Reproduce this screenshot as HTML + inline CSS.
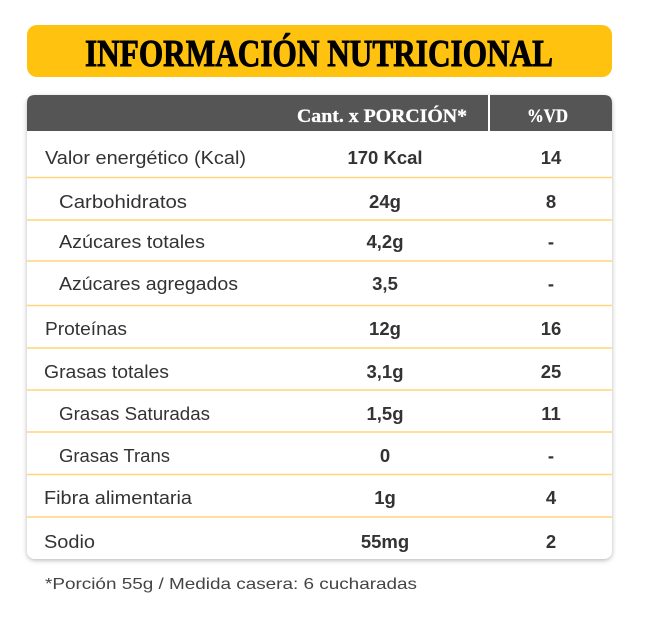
<!DOCTYPE html>
<html>
<head>
<meta charset="utf-8">
<style>
  html,body{margin:0;padding:0;background:#ffffff;}
  svg{display:block;}
</style>
</head>
<body>
<svg width="648" height="625" viewBox="0 0 648 625" xmlns="http://www.w3.org/2000/svg">
  <defs>
    <filter id="sh" x="-5%" y="-5%" width="110%" height="110%">
      <feDropShadow dx="0" dy="1.5" stdDeviation="2.5" flood-color="#000" flood-opacity="0.28"/>
    </filter>
  </defs>
  <rect x="0" y="0" width="648" height="625" fill="#ffffff"/>

  <!-- Banner -->
  <rect x="27" y="25" width="585" height="52" rx="10" ry="10" fill="#FFC20E"/>
  <text x="85" y="66" font-family="Liberation Serif, serif" font-weight="bold" font-size="38" fill="#000" stroke="#000" stroke-width="0.9" textLength="468" lengthAdjust="spacingAndGlyphs">INFORMACIÓN NUTRICIONAL</text>

  <!-- Table -->
  <rect x="27" y="95" width="585" height="464" rx="8" ry="8" fill="#ffffff" filter="url(#sh)"/>
  <path d="M27,131 L27,103 Q27,95 35,95 L604,95 Q612,95 612,103 L612,131 Z" fill="#555555"/>
  <rect x="488" y="95" width="2" height="36" fill="#ffffff"/>
  <text x="297" y="122" font-family="Liberation Serif, serif" font-weight="bold" font-size="19" fill="#ffffff" stroke="#ffffff" stroke-width="0.3" textLength="170" lengthAdjust="spacingAndGlyphs">Cant. x PORCIÓN*</text>
  <text x="527" y="122" font-family="Liberation Serif, serif" font-weight="bold" font-size="19" fill="#ffffff" stroke="#ffffff" stroke-width="0.3" textLength="41" lengthAdjust="spacingAndGlyphs">%VD</text>

  <!-- Row lines -->
  <g stroke="#FFD67A" stroke-width="1.5">
    <line x1="27" y1="177.5" x2="612" y2="177.5"/>
    <line x1="27" y1="220" x2="612" y2="220"/>
    <line x1="27" y1="261" x2="612" y2="261"/>
    <line x1="27" y1="305.5" x2="612" y2="305.5"/>
    <line x1="27" y1="348" x2="612" y2="348"/>
    <line x1="27" y1="390" x2="612" y2="390"/>
    <line x1="27" y1="432" x2="612" y2="432"/>
    <line x1="27" y1="474.5" x2="612" y2="474.5"/>
    <line x1="27" y1="517" x2="612" y2="517"/>
  </g>

  <!-- Labels -->
  <g font-family="Liberation Sans, sans-serif" font-size="18" fill="#333333">
    <text x="45" y="164" textLength="201" lengthAdjust="spacingAndGlyphs">Valor energético (Kcal)</text>
    <text x="59" y="208" textLength="128" lengthAdjust="spacingAndGlyphs">Carbohidratos</text>
    <text x="59" y="248" textLength="146" lengthAdjust="spacingAndGlyphs">Azúcares totales</text>
    <text x="59" y="290" textLength="179" lengthAdjust="spacingAndGlyphs">Azúcares agregados</text>
    <text x="45" y="335" textLength="82" lengthAdjust="spacingAndGlyphs">Proteínas</text>
    <text x="44" y="378" textLength="125" lengthAdjust="spacingAndGlyphs">Grasas totales</text>
    <text x="59" y="420" textLength="151" lengthAdjust="spacingAndGlyphs">Grasas Saturadas</text>
    <text x="59" y="462" textLength="111" lengthAdjust="spacingAndGlyphs">Grasas Trans</text>
    <text x="44" y="504" textLength="148" lengthAdjust="spacingAndGlyphs">Fibra alimentaria</text>
    <text x="44" y="548" textLength="51" lengthAdjust="spacingAndGlyphs">Sodio</text>
  </g>

  <!-- Values -->
  <g font-family="Liberation Sans, sans-serif" font-size="18.5" font-weight="bold" fill="#333333" text-anchor="middle">
    <text x="385" y="164">170 Kcal</text>
    <text x="385" y="208">24g</text>
    <text x="385" y="248">4,2g</text>
    <text x="385" y="290">3,5</text>
    <text x="385" y="335">12g</text>
    <text x="385" y="378">3,1g</text>
    <text x="385" y="420">1,5g</text>
    <text x="385" y="462">0</text>
    <text x="385" y="504">1g</text>
    <text x="385" y="548">55mg</text>

    <text x="551" y="164">14</text>
    <text x="551" y="208">8</text>
    <text x="551" y="248">-</text>
    <text x="551" y="290">-</text>
    <text x="551" y="335">16</text>
    <text x="551" y="378">25</text>
    <text x="551" y="420">11</text>
    <text x="551" y="462">-</text>
    <text x="551" y="504">4</text>
    <text x="551" y="548">2</text>
  </g>

  <!-- Footnote -->
  <text x="45" y="589" font-family="Liberation Sans, sans-serif" font-size="16" fill="#444444" textLength="372" lengthAdjust="spacingAndGlyphs">*Porción 55g / Medida casera: 6 cucharadas</text>
</svg>
</body>
</html>
